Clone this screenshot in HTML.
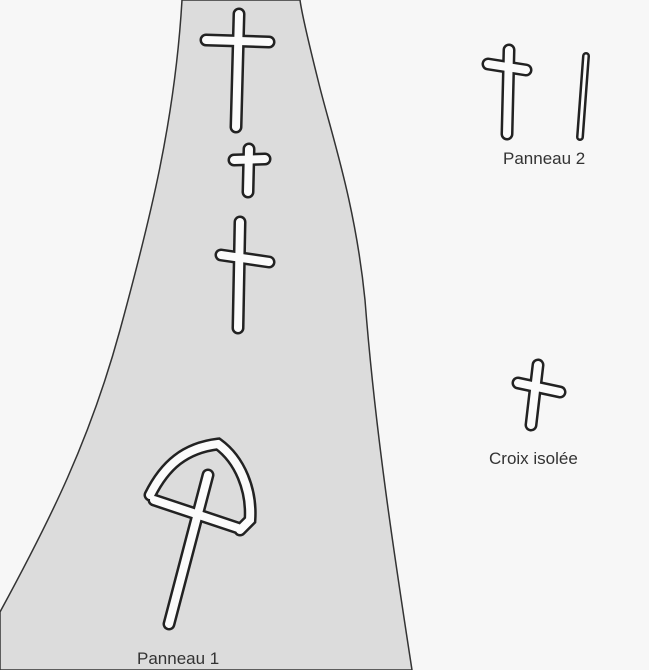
<!DOCTYPE html>
<html><head><meta charset="utf-8"><style>
html,body{margin:0;padding:0;background:#f7f7f7}
svg{display:block}
text{font-family:"Liberation Sans",sans-serif;font-size:17px;fill:#333}
</style></head><body>
<svg width="649" height="670" viewBox="0 0 649 670">
<rect width="649" height="670" fill="#f7f7f7"/>
<path d="M182,0 C175,120 150,220 120,330 C90,440 50,520 0,612 L0,670 L412,670 C395,560 375,430 365,300 C355,200 330,130 318,80 C308,40 302,15 300,0 Z" fill="#dcdcdc" stroke="#333" stroke-width="1.5"/>
<g stroke-linecap="round" fill="none">
<g stroke="#222" stroke-width="13">
<path d="M239,14 L236,127"/><path d="M206,40 L269,42"/>
<path d="M249,149 L248,192"/><path d="M234,160 L265,159"/>
<path d="M240,222 L238,328"/><path d="M221,255 L269,262"/>
<path d="M208,475 L169,624"/><path d="M154,500 L238,528"/>
<path d="M150,495 C165,465 185,448 218,444 C240,460 252,490 250,520 L240,530"/>
<path d="M509,50 L507,134"/><path d="M488,64 L526,70"/>
<path d="M586,56 L580,137" stroke-width="8"/>
<path d="M538,365 L531,425"/><path d="M518,383 L560,392"/>
</g>
<g stroke="#fbfbfb" stroke-width="8">
<path d="M239,14 L236,127"/><path d="M206,40 L269,42"/>
<path d="M249,149 L248,192"/><path d="M234,160 L265,159"/>
<path d="M240,222 L238,328"/><path d="M221,255 L269,262"/>
<path d="M208,475 L169,624"/><path d="M154,500 L238,528"/>
<path d="M150,495 C165,465 185,448 218,444 C240,460 252,490 250,520 L240,530"/>
<path d="M509,50 L507,134"/><path d="M488,64 L526,70"/>
<path d="M586,56 L580,137" stroke-width="3"/>
<path d="M538,365 L531,425"/><path d="M518,383 L560,392"/>
</g>
</g>
<text x="503" y="164">Panneau 2</text>
<text x="489" y="464">Croix isolée</text>
<text x="137" y="664">Panneau 1</text>
</svg>
</body></html>
